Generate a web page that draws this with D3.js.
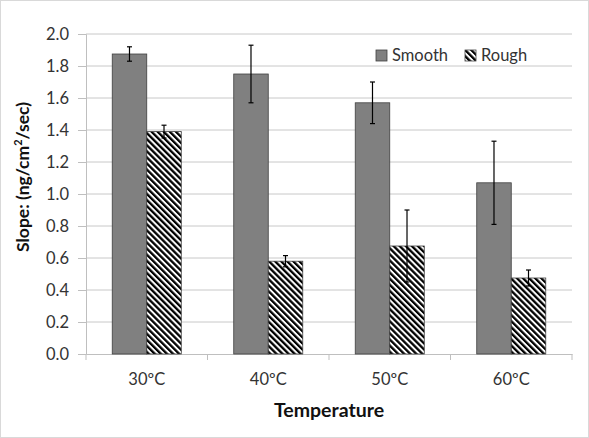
<!DOCTYPE html>
<html><head><meta charset="utf-8">
<script src="https://cdn.jsdelivr.net/npm/d3@7"></script>
<style>body{margin:0;background:#fff}svg{display:block}</style>
</head><body>
<script>
const categories = ["30ºC","40ºC","50ºC","60ºC"];
const seriesNames = ["Smooth","Rough"];
const smoothValues = [1.875, 1.75, 1.57, 1.07];
const smoothErrors = [0.045, 0.18, 0.13, 0.26];
const roughValues = [1.39, 0.58, 0.675, 0.475];
const roughErrors = [0.04, 0.035, 0.225, 0.05];
const yTicks = [0,0.2,0.4,0.6,0.8,1.0,1.2,1.4,1.6,1.8,2.0];

const W=589,H=438;
const m={l:86,r:17,t:34,b:84};
const svg=d3.select("body").append("svg").attr("width",W).attr("height",H);
const defs=svg.append("defs");
const pat=defs.append("pattern").attr("id","hatch").attr("patternUnits","userSpaceOnUse")
  .attr("width",4.3).attr("height",4.3).attr("patternTransform","rotate(-45)");
pat.append("rect").attr("width",4.3).attr("height",4.3).attr("fill","#fff");
pat.append("rect").attr("x",0).attr("width",2.3).attr("height",4.3).attr("fill","#000");

svg.append("rect").attr("x",0.5).attr("y",0.5).attr("width",W-1).attr("height",H-1)
  .attr("fill","#fff").attr("stroke","#d9d9d9");

const x=d3.scaleBand().domain(categories).range([m.l,W-m.r]);
const xs=d3.scaleBand().domain(seriesNames).range([0,x.bandwidth()]).paddingOuter(0.76).paddingInner(0);
const y=d3.scaleLinear().domain([0,2]).range([H-m.b,m.t]);
const font="Lato, 'Open Sans', sans-serif";

// grid
svg.append("g").selectAll("line").data(yTicks.slice(1)).join("line")
  .attr("x1",m.l).attr("x2",W-m.r).attr("y1",d=>y(d)).attr("y2",d=>y(d))
  .attr("stroke","#c8c8c8").attr("stroke-width",1);

// y axis
const ya=svg.append("g").attr("transform",`translate(${m.l},0)`)
  .call(d3.axisLeft(y).tickValues(yTicks).tickFormat(d3.format(".1f")).tickSize(8).tickPadding(9));
ya.select(".domain").attr("stroke","#bfbfbf");
ya.selectAll(".tick line").attr("stroke","#bfbfbf");
ya.selectAll("text").attr("font-family",font).attr("font-size",16.5).attr("fill","#333");

// x axis
const xa=svg.append("g").attr("transform",`translate(0,${H-m.b})`)
  .call(d3.axisBottom(x).tickSize(0).tickPadding(19));
xa.select(".domain").attr("stroke","#bfbfbf");
xa.selectAll("text").attr("font-family",font).attr("font-size",16.5).attr("fill","#333");
const bounds=categories.map(c=>x(c)).concat([x(categories[3])+x.bandwidth()]);
svg.append("g").selectAll("line").data(bounds).join("line")
  .attr("x1",d=>d).attr("x2",d=>d).attr("y1",H-m.b).attr("y2",H-m.b+6).attr("stroke","#bfbfbf");

const data=[
  {name:"Smooth",vals:smoothValues,errs:smoothErrors,fill:"#808080"},
  {name:"Rough",vals:roughValues,errs:roughErrors,fill:"url(#hatch)"}
];
data.forEach(s=>{
  const g=svg.append("g");
  g.selectAll("rect").data(categories).join("rect")
    .attr("x",(c)=>x(c)+xs(s.name)).attr("width",xs.bandwidth())
    .attr("y",(c,i)=>y(s.vals[i])).attr("height",(c,i)=>y(0)-y(s.vals[i]))
    .attr("fill",s.fill).attr("stroke","#404040").attr("stroke-width",0.8);
  const eg=svg.append("g").attr("stroke","#000").attr("stroke-width",1.2);
  categories.forEach((c,i)=>{
    const cx=x(c)+xs(s.name)+xs.bandwidth()/2;
    const t=y(s.vals[i]+s.errs[i]), b=y(s.vals[i]-s.errs[i]);
    eg.append("line").attr("x1",cx).attr("x2",cx).attr("y1",t).attr("y2",b);
    eg.append("line").attr("x1",cx-2.5).attr("x2",cx+2.5).attr("y1",t).attr("y2",t);
    eg.append("line").attr("x1",cx-2.5).attr("x2",cx+2.5).attr("y1",b).attr("y2",b);
  });
});

// legend
const lg=svg.append("g");
const lx=[376,465];
data.forEach((s,i)=>{
  lg.append("rect").attr("x",lx[i]).attr("y",50).attr("width",11).attr("height",11)
    .attr("fill",s.fill).attr("stroke","#404040").attr("stroke-width",0.8);
  lg.append("text").attr("x",lx[i]+16).attr("y",61).text(s.name)
    .attr("font-family",font).attr("font-size",16.5).attr("fill","#333");
});

// titles
svg.append("text").attr("x",(m.l+W-m.r)/2).attr("y",417).attr("text-anchor","middle")
  .attr("font-family",font).attr("font-size",19.5).attr("font-weight","bold").attr("fill","#111")
  .text("Temperature");
const yt=svg.append("text").attr("transform",`translate(29,177) rotate(-90)`)
  .attr("text-anchor","middle").attr("font-family",font).attr("font-size",17.5).attr("font-weight","bold").attr("fill","#111");
yt.append("tspan").text("Slope: (ng/cm");
yt.append("tspan").attr("font-size",11).attr("dy",-7).text("2");
yt.append("tspan").attr("dy",7).text("/sec)");
</script>
</body></html>
